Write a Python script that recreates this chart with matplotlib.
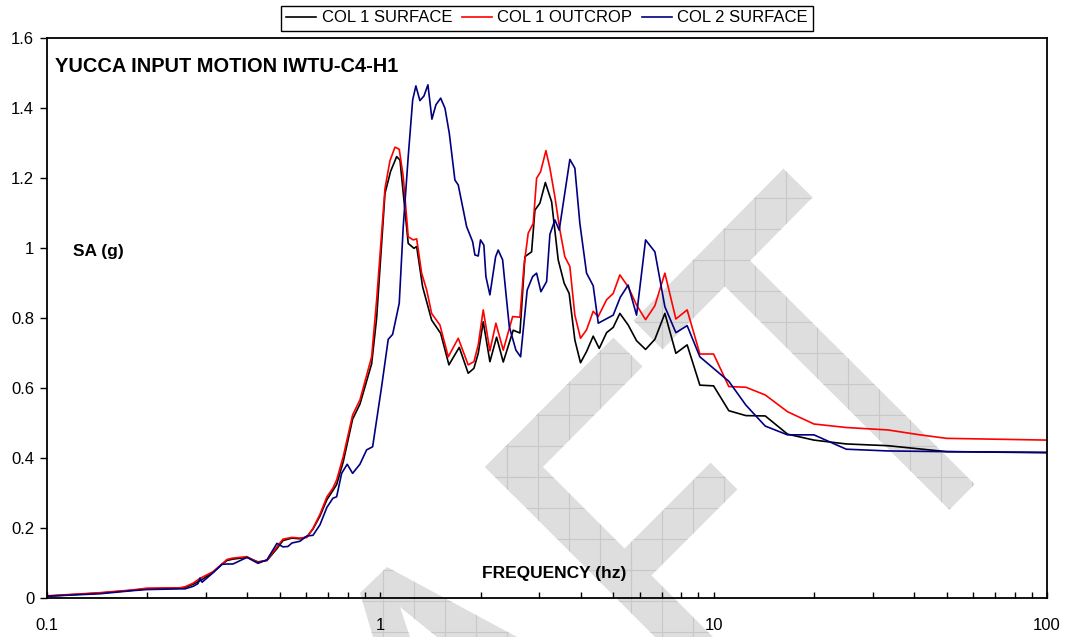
import numpy as np
import matplotlib
matplotlib.use("Agg")
import matplotlib.pyplot as plt
from matplotlib.patches import Polygon
from matplotlib.collections import LineCollection
from matplotlib.ticker import LogLocator, NullFormatter

plt.rcParams['font.family'] = ['Liberation Sans', 'DejaVu Sans']

# spectral acceleration (g) vs frequency (hz)
freq_col1_surf = [0.100, 0.1445, 0.1815, 0.1995, 0.251, 0.260, 0.2746, 0.2883, 0.3153, 0.3355,
                  0.3473, 0.362, 0.3988, 0.4301, 0.4577, 0.4904, 0.511, 0.5438, 0.5747, 0.6031,
                  0.629, 0.66, 0.6925, 0.7218, 0.7405, 0.775, 0.827, 0.870, 0.943, 0.976,
                  1.034, 1.075, 1.121, 1.147, 1.214, 1.263, 1.287, 1.341, 1.427, 1.519,
                  1.608, 1.727, 1.837, 1.911, 1.969, 2.038, 2.134, 2.235, 2.34, 2.507,
                  2.626, 2.718, 2.846, 2.912, 3.014, 3.13, 3.268, 3.42, 3.565, 3.689,
                  3.837, 3.99, 4.16, 4.355, 4.54, 4.777, 5.0, 5.236, 5.544, 5.875,
                  6.253, 6.668, 7.145, 7.709, 8.333, 9.097, 10.0, 11.11, 12.5, 14.29,
                  16.67, 20.0, 25.0, 33.33, 50.0, 100.0]
sa_col1_surf = [0.006, 0.015, 0.023, 0.027, 0.029, 0.031, 0.040, 0.050, 0.074, 0.097,
                0.108, 0.112, 0.117, 0.104, 0.108, 0.142, 0.165, 0.172, 0.170, 0.176,
                0.198, 0.235, 0.282, 0.308, 0.325, 0.390, 0.512, 0.555, 0.670, 0.800,
                1.157, 1.220, 1.262, 1.252, 1.014, 1.000, 1.005, 0.890, 0.795, 0.757,
                0.667, 0.717, 0.643, 0.657, 0.700, 0.790, 0.676, 0.746, 0.675, 0.766,
                0.758, 0.976, 0.990, 1.109, 1.129, 1.188, 1.133, 0.967, 0.900, 0.871,
                0.738, 0.673, 0.705, 0.749, 0.714, 0.759, 0.774, 0.814, 0.781, 0.736,
                0.711, 0.740, 0.814, 0.700, 0.724, 0.609, 0.607, 0.536, 0.522, 0.521,
                0.469, 0.452, 0.441, 0.436, 0.419, 0.416]

freq_col1_out = [0.100, 0.1445, 0.1815, 0.1995, 0.251, 0.260, 0.2746, 0.2883, 0.3153, 0.3355,
                 0.3473, 0.362, 0.3988, 0.4301, 0.4577, 0.4904, 0.511, 0.5438, 0.5747, 0.6031,
                 0.629, 0.66, 0.6925, 0.7218, 0.7405, 0.775, 0.827, 0.870, 0.943, 0.976,
                 1.034, 1.07, 1.108, 1.141, 1.173, 1.214, 1.257, 1.287, 1.332, 1.379,
                 1.427, 1.511, 1.601, 1.715, 1.837, 1.911, 1.969, 2.038, 2.134, 2.224,
                 2.34, 2.497, 2.626, 2.699, 2.78, 2.878, 2.946, 3.029, 3.142, 3.23,
                 3.343, 3.46, 3.58, 3.707, 3.837, 3.99, 4.16, 4.355, 4.508, 4.777,
                 5.0, 5.236, 5.544, 5.875, 6.253, 6.668, 7.145, 7.709, 8.333, 9.097,
                 10.0, 11.11, 12.5, 14.29, 16.67, 20.0, 25.0, 33.33, 41.6, 50.0, 100.0]
sa_col1_out = [0.007, 0.016, 0.024, 0.029, 0.030, 0.033, 0.043, 0.057, 0.076, 0.098,
               0.111, 0.115, 0.119, 0.102, 0.109, 0.147, 0.169, 0.174, 0.172, 0.174,
               0.200, 0.240, 0.290, 0.315, 0.338, 0.405, 0.524, 0.567, 0.690, 0.852,
               1.171, 1.250, 1.289, 1.283, 1.205, 1.033, 1.024, 1.027, 0.929, 0.881,
               0.814, 0.781, 0.690, 0.743, 0.667, 0.676, 0.724, 0.824, 0.707, 0.786,
               0.709, 0.805, 0.803, 0.948, 1.043, 1.071, 1.200, 1.219, 1.279, 1.229,
               1.147, 1.052, 0.976, 0.948, 0.809, 0.743, 0.767, 0.820, 0.805, 0.853,
               0.871, 0.924, 0.890, 0.838, 0.796, 0.836, 0.929, 0.798, 0.824, 0.698,
               0.698, 0.605, 0.603, 0.581, 0.533, 0.498, 0.488, 0.481, 0.467, 0.457, 0.452]

freq_col2_surf = [0.100, 0.1445, 0.1815, 0.1995, 0.251, 0.260, 0.2746, 0.2843, 0.2883, 0.2925,
                  0.3153, 0.3355, 0.3473, 0.362, 0.3988, 0.4301, 0.4577, 0.4904, 0.511, 0.529,
                  0.5438, 0.5747, 0.6031, 0.629, 0.66, 0.6925, 0.7218, 0.7405, 0.7666, 0.7966,
                  0.8269, 0.8697, 0.9109, 0.9495, 1.0104, 1.0575, 1.090, 1.141, 1.173, 1.214,
                  1.252, 1.28, 1.316, 1.353, 1.391, 1.43, 1.47, 1.519, 1.565, 1.612,
                  1.676, 1.715, 1.817, 1.894, 1.924, 1.969, 2.0, 2.047, 2.076, 2.134,
                  2.22, 2.26, 2.33, 2.384, 2.44, 2.554, 2.638, 2.761, 2.866, 2.946,
                  3.035, 3.157, 3.23, 3.343, 3.444, 3.707, 3.837, 3.972, 4.16, 4.355,
                  4.51, 5.0, 5.25, 5.544, 5.875, 6.253, 6.668, 7.145, 7.709, 8.333,
                  9.097, 11.11, 12.5, 14.29, 16.67, 20.0, 25.0, 33.33, 50.0, 100.0]
sa_col2_surf = [0.006, 0.013, 0.022, 0.025, 0.027, 0.027, 0.034, 0.042, 0.058, 0.046,
                0.073, 0.097, 0.098, 0.098, 0.117, 0.100, 0.110, 0.157, 0.147, 0.148,
                0.158, 0.163, 0.178, 0.180, 0.210, 0.260, 0.286, 0.290, 0.357, 0.383,
                0.357, 0.383, 0.424, 0.433, 0.605, 0.740, 0.754, 0.843, 1.062, 1.262,
                1.424, 1.464, 1.422, 1.435, 1.467, 1.369, 1.410, 1.429, 1.400, 1.329,
                1.195, 1.181, 1.062, 1.019, 0.981, 0.978, 1.024, 1.009, 0.919, 0.867,
                0.976, 0.995, 0.967, 0.871, 0.776, 0.709, 0.690, 0.881, 0.919, 0.929,
                0.876, 0.905, 1.040, 1.081, 1.052, 1.254, 1.229, 1.071, 0.929, 0.893,
                0.786, 0.809, 0.860, 0.895, 0.809, 1.024, 0.990, 0.833, 0.759, 0.779,
                0.690, 0.620, 0.552, 0.492, 0.467, 0.467, 0.426, 0.421, 0.419, 0.417]

x_ticks = [0.1, 1, 10, 100]
x_labels = ['0.1', '1', '10', '100']
y_ticks = [0, 0.2, 0.4, 0.6, 0.8, 1.0, 1.2, 1.4, 1.6]
y_labels = ['0', '0.2', '0.4', '0.6', '0.8', '1', '1.2', '1.4', '1.6']

W, H = 1070, 637
fig = plt.figure(figsize=(W / 100, H / 100), dpi=100)

# grey "draft" stamp behind the chart, laid out in pixel units
wm = fig.add_axes([0, 0, 1, 1], zorder=0)
wm.set_xlim(0, W)
wm.set_ylim(H, 0)
wm.axis('off')


def band(p0, p1, w, ext0=0.0, ext1=0.0):
    p0 = np.array(p0, float)
    p1 = np.array(p1, float)
    u = (p1 - p0) / np.hypot(*(p1 - p0))
    n = np.array([-u[1], u[0]])
    a = p0 - u * ext0
    b = p1 + u * ext1
    return [a + n * w / 2, b + n * w / 2, b - n * w / 2, a - n * w / 2]


stamp = [
    band((648, 335), (798, 183), 41),
    band((737, 273), (962, 497), 36),
    band((628, 352), (514, 467), 41, ext1=20.5),
    band((514, 467), (720, 673), 41, ext0=20.5),
    band((724, 476), (623, 577), 38),
    [(360, 593), (387, 567), (517, 637), (437, 637), (400, 607), (410, 637), (373, 637)],
]
grid = [[(x, 0), (x, H)] for x in np.arange(11.3, W, 31)] + \
       [[(0, y), (W, y)] for y in np.arange(198 - 31 * 6, H, 31)]
for pts in stamp:
    patch = Polygon(pts, closed=True, facecolor='#dedede', edgecolor='none')
    wm.add_patch(patch)
    lc = LineCollection(grid, colors='#c8c8c8', linewidths=0.8)
    wm.add_collection(lc)
    lc.set_clip_path(patch)

ax = fig.add_axes([46.7 / W, (H - 598.3) / H, (1047 - 46.7) / W, 560 / H], zorder=1)
ax.patch.set_visible(False)

ax.plot(freq_col1_surf, sa_col1_surf, color='black', lw=1.2, label='COL 1 SURFACE')
ax.plot(freq_col1_out, sa_col1_out, color='#ff0000', lw=1.2, label='COL 1 OUTCROP')
ax.plot(freq_col2_surf, sa_col2_surf, color='#000080', lw=1.2, label='COL 2 SURFACE')

ax.set_xscale('log')
ax.set_xlim(0.1, 100)
ax.set_ylim(0, 1.6)
ax.set_xticks(x_ticks)
ax.set_xticklabels(x_labels)
ax.xaxis.set_minor_locator(LogLocator(base=10, subs=np.arange(2, 10)))
ax.xaxis.set_minor_formatter(NullFormatter())
ax.set_yticks(y_ticks)
ax.set_yticklabels(y_labels)
ax.tick_params(axis='x', which='both', direction='in', length=4, width=1, pad=14, labelsize=12)
ax.tick_params(axis='y', direction='out', length=5, width=1, pad=4, labelsize=12)
for s in ax.spines.values():
    s.set_linewidth(1.3)

ax.text(0.0083, 0.9505, 'YUCCA INPUT MOTION IWTU-C4-H1', transform=ax.transAxes,
        fontsize=14.4, fontweight='bold', va='center', ha='left')
ax.text(0.0263, 0.6184, 'SA (g)', transform=ax.transAxes,
        fontsize=12.5, fontweight='bold', va='center', ha='left')
ax.text(0.435, 0.0446, 'FREQUENCY (hz)', transform=ax.transAxes,
        fontsize=12.5, fontweight='bold', va='center', ha='left')

leg = fig.legend(loc='center', bbox_to_anchor=(547 / W, 1 - 18 / H), ncol=3, fontsize=12,
                 frameon=True, fancybox=False, edgecolor='black', framealpha=1,
                 handlelength=1.8, handletextpad=0.35, columnspacing=0.55, borderpad=0.3)
leg.get_frame().set_linewidth(1)

fig.savefig('out.png', dpi=100)
